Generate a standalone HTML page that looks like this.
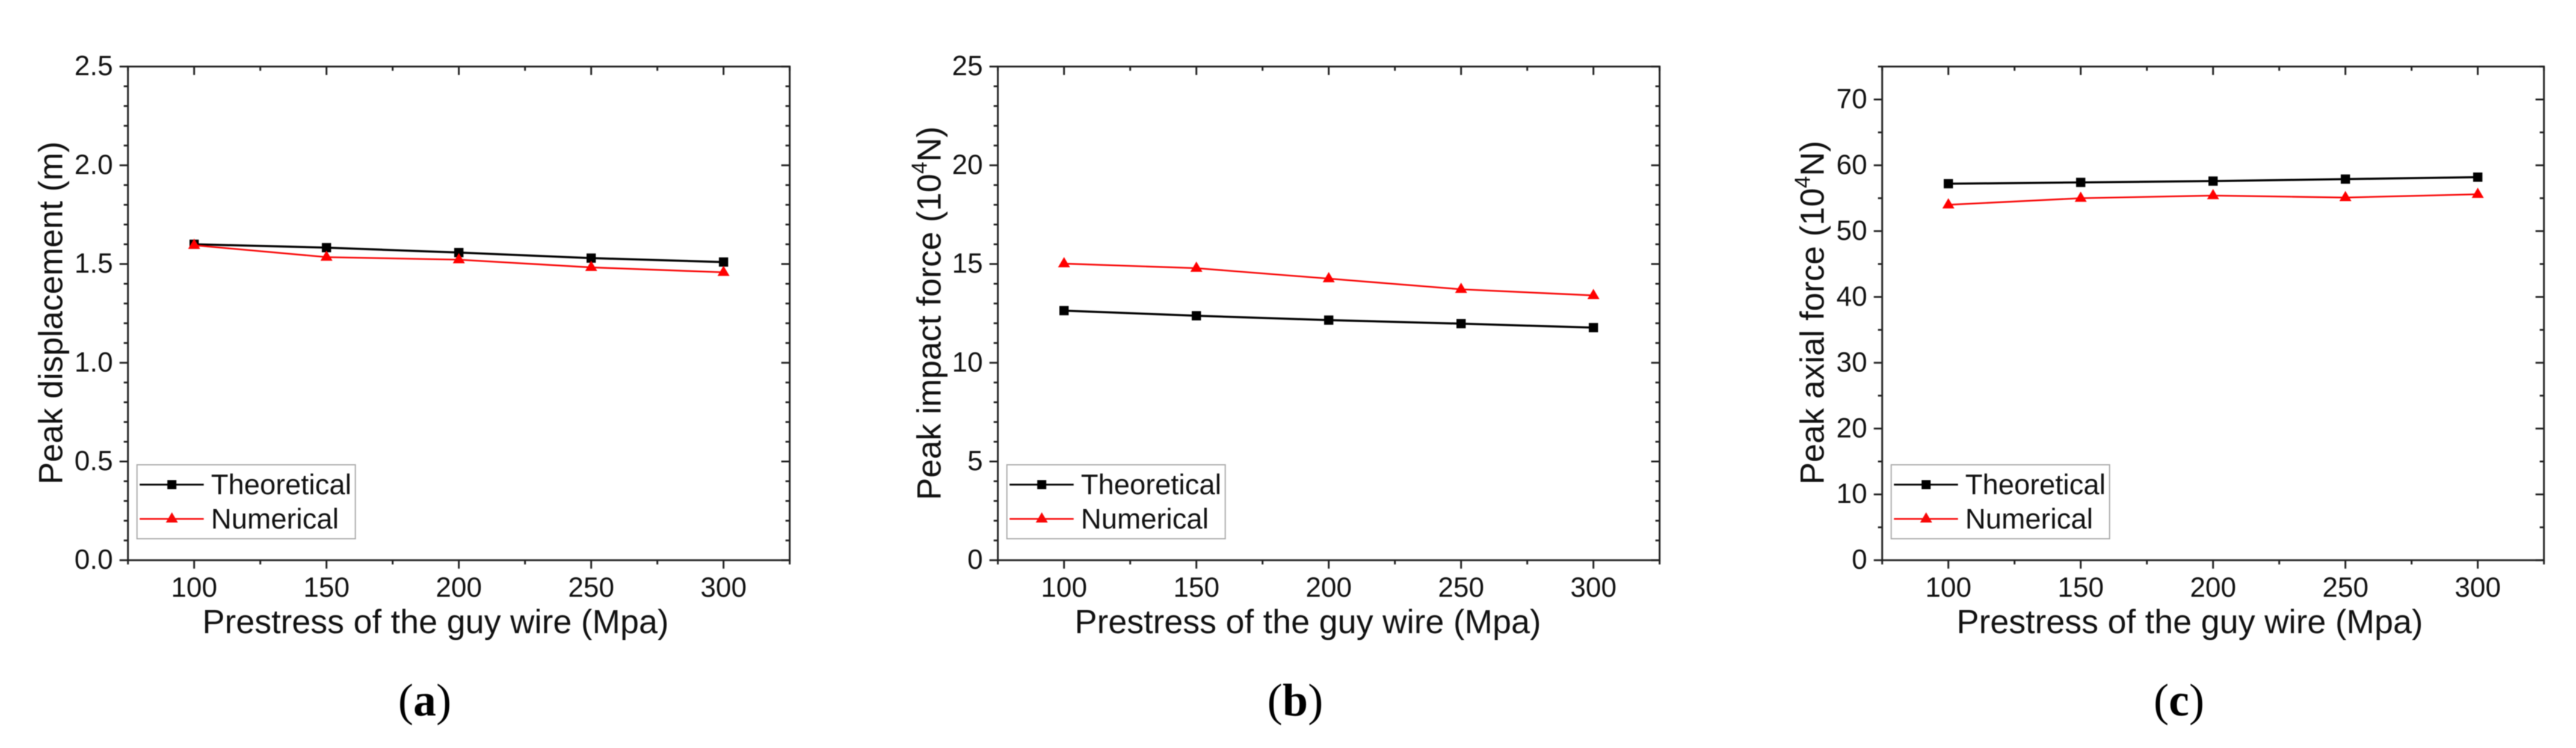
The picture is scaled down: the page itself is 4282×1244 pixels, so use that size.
<!DOCTYPE html>
<html lang="en">
<head>
<meta charset="utf-8">
<title>Peak response vs prestress of the guy wire</title>
<style>
html,body{margin:0;padding:0;background:#fff;}
#figure{display:block;width:4282px;height:1244px;filter:blur(0.8px);}
text{font-family:"Liberation Sans",Arial,sans-serif;fill:#111;}
.tick{font-size:46px;}
.title{font-size:55.8px;}
.leg{font-size:47.2px;}
.cap{font-family:"Liberation Serif","Times New Roman",serif;font-size:76px;fill:#000;}
</style>
</head>
<body>
<svg id="figure" xmlns="http://www.w3.org/2000/svg" width="4282" height="1244" viewBox="0 0 4282 1244">
  <rect width="4282" height="1244" fill="#fff"/>

  <g id="panel-a">
    <text class="title" x="724" y="1053" text-anchor="middle">Prestress of the guy wire (Mpa)</text>
    <text class="title" transform="translate(103.5 520.5) rotate(-90)" text-anchor="middle">Peak displacement (m)</text>
    <text class="cap" x="706" y="1190" text-anchor="middle">(<tspan font-weight="bold">a</tspan>)</text>
  </g>
  <g id="panel-b">
    <text class="title" x="2174" y="1053" text-anchor="middle">Prestress of the guy wire (Mpa)</text>
    <text class="title" transform="translate(1563.5 521) rotate(-90)" text-anchor="middle">Peak impact force (10<tspan font-size="36" dy="-23">4</tspan><tspan dy="23">N)</tspan></text>
    <text class="cap" x="2153" y="1190" text-anchor="middle">(<tspan font-weight="bold">b</tspan>)</text>
  </g>
  <g id="panel-c">
    <text class="title" x="3640" y="1053" text-anchor="middle">Prestress of the guy wire (Mpa)</text>
    <text class="title" transform="translate(3031.5 520) rotate(-90)" text-anchor="middle">Peak axial force (10<tspan font-size="36" dy="-23">4</tspan><tspan dy="23">N)</tspan></text>
    <text class="cap" x="3622" y="1190" text-anchor="middle">(<tspan font-weight="bold">c</tspan>)</text>
  </g>
</svg>
<script>
// Shared x axis
const prestressCategories = [100, 150, 200, 250, 300];
const xTickLabels = ["100", "150", "200", "250", "300"];

// Panel (a) values
const theoreticalA = [1.60, 1.583, 1.558, 1.53, 1.51];
const numericalA = [1.595, 1.535, 1.522, 1.483, 1.458];
const yTickLabelsA = ["0.0", "0.5", "1.0", "1.5", "2.0", "2.5"];

// Panel (b) values
const theoreticalB = [12.64, 12.38, 12.16, 11.98, 11.78];
const numericalB = [15.02, 14.79, 14.26, 13.72, 13.41];
const yTickLabelsB = ["0", "5", "10", "15", "20", "25"];

// Panel (c) values
const theoreticalC = [57.2, 57.4, 57.6, 57.9, 58.2];
const numericalC = [54.0, 55.0, 55.4, 55.1, 55.6];
const yTickLabelsC = ["0", "10", "20", "30", "40", "50", "60", "70"];

const SVG_NS = "http://www.w3.org/2000/svg";

function make(parent, tag, attrs, text) {
  const node = document.createElementNS(SVG_NS, tag);
  for (const key in attrs) node.setAttribute(key, attrs[key]);
  if (text !== undefined) node.textContent = text;
  parent.appendChild(node);
  return node;
}

function tickLine(parent, x1, y1, x2, y2) {
  const tick = make(parent, "line", {x1: x1, y1: y1, x2: x2, y2: y2, stroke: "#222", "stroke-width": 3});
  
  
}

function drawLegendSample(parent, box, row, color, width, kind) {
  const lineY = box.y + (row === 0 ? 33 : 90);
  const sample = make(parent, "line", {x1: box.x + 4.5, y1: lineY, x2: box.x + 111, y2: lineY, stroke: color, "stroke-width": width});
  
  
  const mx = box.x + 58;
  const symbol = kind === "square"
    ? make(parent, "rect", {x: mx - 7.5, y: lineY - 7.5, width: 15, height: 15, fill: color})
    : make(parent, "polygon", {points: (mx - 10) + "," + (lineY + 6) + " " + (mx + 10) + "," + (lineY + 6) + " " + mx + "," + (lineY - 11), fill: color});
  
  
}

function drawPanel(id, left, yMax, yMajor, yMinor, yTickLabels, theoretical, numerical) {
  const group = document.getElementById(id);
  const right = left + 1100, top = 110.7, bottom = 931.7;
  const xMin = 75, xMax = 325;
  const xScale = function (v) { return left + (v - xMin) / (xMax - xMin) * (right - left); };
  const yScale = function (v) { return bottom - v / yMax * (bottom - top); };

  const frame = make(group, "rect", {x: left, y: top, width: right - left, height: bottom - top, fill: "none", stroke: "#222", "stroke-width": 3});
  
  

  // x ticks: outward on the bottom, inward on the top
  for (let v = xMin; v <= xMax; v += 25) {
    const major = (v - 100) % 50 === 0;
    const len = major ? 14 : 7;
    tickLine(group, xScale(v), bottom, xScale(v), bottom + len);
    tickLine(group, xScale(v), top, xScale(v), top + len);
  }
  prestressCategories.forEach(function (v, i) {
    const label = make(group, "text", {class: "tick", x: xScale(v), y: 992.5, "text-anchor": "middle"}, xTickLabels[i]);
    
    
  });

  // y ticks: outward on the left, inward on the right
  const steps = Math.round(yMax / yMinor);
  const every = Math.round(yMajor / yMinor);
  for (let s = 0; s <= steps; s++) {
    const y = yScale(s * yMinor);
    const len = s % every === 0 ? 14 : 7;
    tickLine(group, left - len, y, left, y);
    tickLine(group, right - len, y, right, y);
  }
  yTickLabels.forEach(function (text, i) {
    const label = make(group, "text", {class: "tick", x: left - 25, y: yScale(i * yMajor) + 14.5, "text-anchor": "end"}, text);
    
    
  });

  // series
  const toPoints = function (values) {
    return values.map(function (v, i) { return xScale(prestressCategories[i]) + "," + yScale(v); }).join(" ");
  };
  const lineT = make(group, "polyline", {points: toPoints(theoretical), fill: "none", stroke: "#000", "stroke-width": 3.5});
  
  
  theoretical.forEach(function (v, i) {
    const cx = xScale(prestressCategories[i]), cy = yScale(v);
    const point = make(group, "rect", {x: cx - 7.7, y: cy - 7.7, width: 15.4, height: 15.4, fill: "#000"});
    
    
  });
  const lineN = make(group, "polyline", {points: toPoints(numerical), fill: "none", stroke: "#f80808", "stroke-width": 2.8});
  
  
  numerical.forEach(function (v, i) {
    const cx = xScale(prestressCategories[i]), cy = yScale(v);
    const point = make(group, "polygon", {points: (cx - 10) + "," + (cy + 6) + " " + (cx + 10) + "," + (cy + 6) + " " + cx + "," + (cy - 11), fill: "#f00"});
    
    
  });

  // legend
  const box = {x: left + 15, y: 773};
  const legend = make(group, "g", {});
  
  
  const legendBox = make(legend, "rect", {x: box.x, y: box.y, width: 363, height: 123, fill: "#fff", stroke: "#aaa", "stroke-width": 2});
  
  
  drawLegendSample(legend, box, 0, "#000", 3, "square");
  drawLegendSample(legend, box, 1, "#f80808", 2.8, "triangle");
  const labelT = make(legend, "text", {class: "leg", x: box.x + 123, y: box.y + 49}, "Theoretical");
  
  
  const labelN = make(legend, "text", {class: "leg", x: box.x + 123, y: box.y + 106}, "Numerical");
  
  
}

drawPanel("panel-a", 212.7, 2.5, 0.5, 0.1, yTickLabelsA, theoreticalA, numericalA);
drawPanel("panel-b", 1658.7, 25, 5, 1, yTickLabelsB, theoreticalB, numericalB);
drawPanel("panel-c", 3128.7, 75, 10, 5, yTickLabelsC, theoreticalC, numericalC);
</script>
</body>
</html>
